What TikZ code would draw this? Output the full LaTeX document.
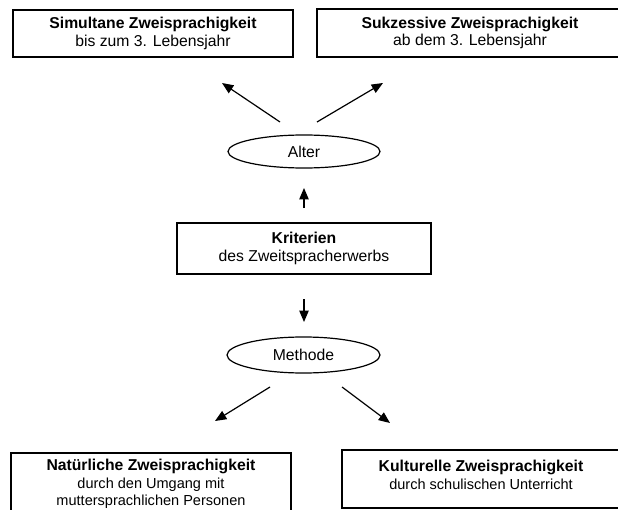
\documentclass[tikz,border=0pt]{standalone}
\usepackage{fontspec}
\setmainfont{Liberation Sans}
\usetikzlibrary{arrows.meta,shapes.geometric}

\newcommand{\grosstext}{\fontsize{11.8}{13}\selectfont}
\newcommand{\kleintext}{\fontsize{10.9}{11.6}\selectfont}

\begin{document}
\begin{tikzpicture}[x=0.75pt,y=-0.75pt,
		kasten/.style={draw, line width=1pt, align=center, inner sep=0pt, font=\grosstext},
		oval/.style={draw, ellipse, line width=0.9pt, inner sep=0pt, font=\grosstext},
		pfeil/.style={-{Triangle[length=8.5pt,width=7pt]}, line width=0.9pt}]
		\useasboundingbox (0,0) rectangle (618,510);
		\clip (0,0) rectangle (618,510);

		\node[kasten, minimum width=210pt, minimum height=35.25pt] (simultan) at (153,33.5)
			{\textbf{Simultane Zweisprachigkeit}\\bis zum 3. Lebensjahr};
		\node[kasten, minimum width=229.5pt, minimum height=36pt] (sukzessiv) at (470,33)
			{\textbf{Sukzessive Zweisprachigkeit}\\ab dem 3. Lebensjahr};

		\node[oval, minimum width=114pt, minimum height=24.75pt] (alter) at (304,151.5) {Alter};
		\node[kasten, minimum width=190.5pt, minimum height=38.25pt] (kriterien) at (304,248.5)
			{\textbf{Kriterien}\\des Zweitspracherwerbs};
		\node[oval, minimum width=114.75pt, minimum height=27pt] (methode) at (303.5,355) {Methode};

		\node[kasten, minimum width=210pt, minimum height=46.5pt] (natuerlich) at (151,484)
			{\textbf{Natürliche Zweisprachigkeit}\\{\kleintext durch den Umgang mit}\\{\kleintext muttersprachlichen Personen}};
		\node[kasten, minimum width=210pt, minimum height=43.5pt] (kulturell) at (482,479) {};
		\node[align=center, font=\grosstext, inner sep=0pt] (kulturtext) at (481,475)
			{\textbf{Kulturelle Zweisprachigkeit}\\{\kleintext durch schulischen Unterricht}};

		\coordinate (alter-l) at (280,122);
		\coordinate (alter-r) at (317,122);
		\coordinate (sim-e) at (222,83);
		\coordinate (suk-e) at (383,83);
		\coordinate (krit-o) at (304,208);
		\coordinate (alter-u) at (304,188);
		\coordinate (krit-u) at (304,299);
		\coordinate (meth-o) at (304,322);
		\coordinate (meth-l) at (270,387);
		\coordinate (meth-r) at (342,387);
		\coordinate (nat-e) at (215,421);
		\coordinate (kult-e) at (390,423);

		\draw[pfeil] (alter-l) -- (sim-e);
		\draw[pfeil] (alter-r) -- (suk-e);
		\draw[pfeil] (krit-o) -- (alter-u);
		\draw[pfeil] (krit-u) -- (meth-o);
		\draw[pfeil] (meth-l) -- (nat-e);
		\draw[pfeil] (meth-r) -- (kult-e);

	\end{tikzpicture}
\end{document}
